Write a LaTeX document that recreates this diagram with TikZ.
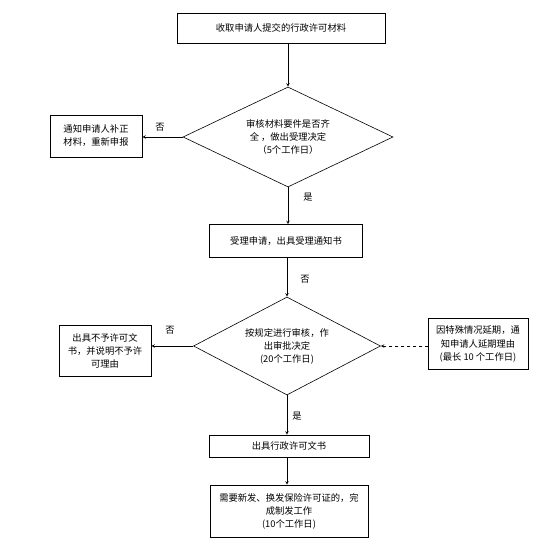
\documentclass[tikz,border=0pt]{standalone}
\usepackage{fontspec}
\newfontfamily\cjk{Noto Sans CJK SC}
\usetikzlibrary{shapes.geometric}

\begin{document}
\begin{tikzpicture}[x=1pt,y=-1pt,>=stealth,
  box/.style={draw,line width=0.6pt,align=center,inner sep=1.5pt,font=\cjk\fontsize{9.3}{13}\selectfont},
  dec/.style={draw,diamond,line width=0.6pt,align=center,inner sep=0pt,aspect=2,font=\cjk\fontsize{9.3}{13}\selectfont},
  lab/.style={font=\cjk\fontsize{9.3}{11}\selectfont,inner sep=1pt},
  flow/.style={->,line width=0.6pt}]
\useasboundingbox (0,0) rectangle (554,545);
% main column
\node[box,minimum width=208,minimum height=30] (recv) at (281,28) {收取申请人提交的行政许可材料};
\node[dec,minimum width=210,minimum height=100] (chk) at (288,137)
  {审核材料要件是否齐\\全 ，做出受理决定\\（5个工作日）};
\node[box,minimum width=153,minimum height=33] (acc) at (286,241) {受理申请，出具受理通知书};
\node[dec,minimum width=187,minimum height=98] (rev) at (287,346)
  {按规定进行审核，作\\出审批决定\\(20个工作日)};
\node[box,minimum width=160,minimum height=22] (lic) at (289,446) {出具行政许可文书};
\node[box,minimum width=158,minimum height=52] (cert) at (289,511)
  {需要新发、换发保险许可证的，完\\成制发工作\\(10个工作日)};
% side boxes
\node[box,minimum width=92,minimum height=42] (fix) at (96,136) {通知申请人补正\\材料，重新申报};
\node[box,minimum width=92,minimum height=51] (deny) at (105,351) {出具不予许可文\\书，并说明不予许\\可理由};
\node[box,minimum width=100,minimum height=51] (ext) at (478,344)
  {因特殊情况延期，通\\知申请人延期理由\\(最长 10 个工作日)};
% connectors
\draw[flow] (chk.north |- recv.south) -- (chk.north);
\draw[flow] (chk.west) -- (chk.west -| fix.east);
\draw[flow] (chk.south) -- (chk.south |- acc.north);
\draw[flow] (rev.north |- acc.south) -- (rev.north);
\draw[flow] (rev.west) -- (rev.west -| deny.east);
\draw[flow,dashed] (ext.west |- rev.east) -- (rev.east);
\draw[flow] (rev.south) -- (rev.south |- lic.north);
\draw[flow] (rev.south |- lic.south) -- (rev.south |- cert.north);
% labels
\node[lab] (n1) at (160,127) {否};
\node[lab] (y1) at (308,197) {是};
\node[lab] (n2) at (305,279) {否};
\node[lab] (n3) at (170,330) {否};
\node[lab] (y2) at (297,416) {是};
\end{tikzpicture}
\end{document}
